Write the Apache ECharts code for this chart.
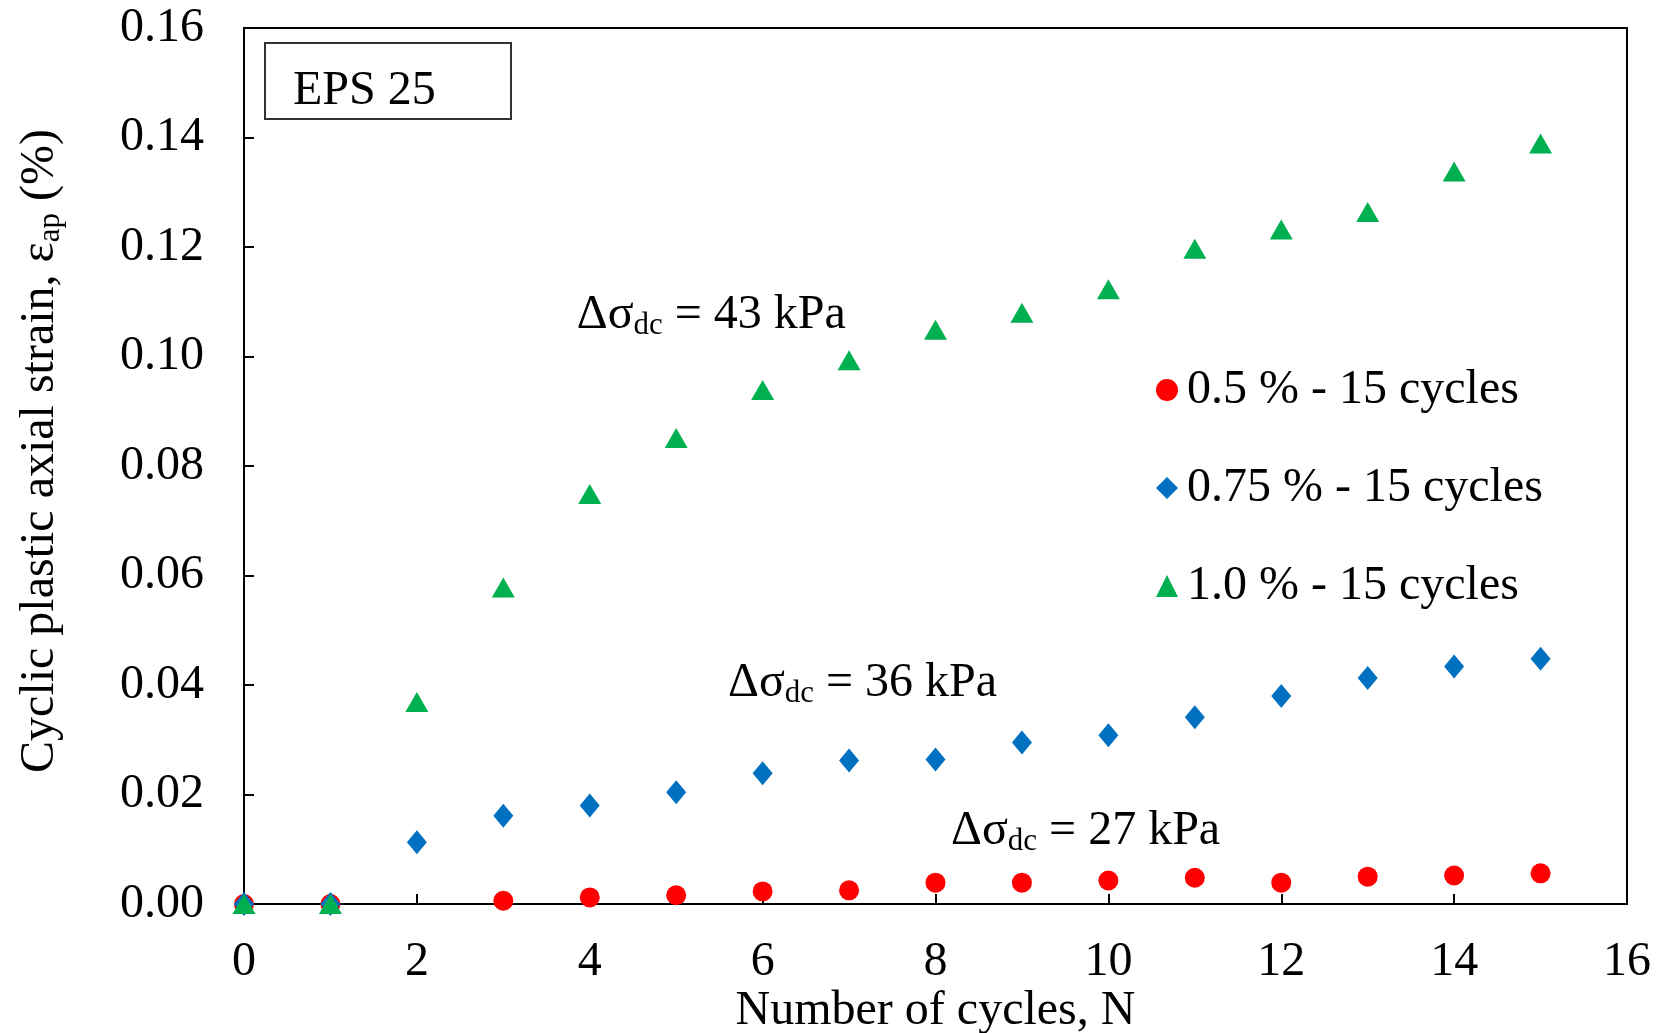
<!DOCTYPE html>
<html>
<head>
    <meta charset="utf-8">
    <title>EPS 25 cyclic plastic strain</title>
    <script src="https://cdn.jsdelivr.net/npm/echarts@6/dist/echarts.min.js"></script>
    <style>
        html, body { margin: 0; padding: 0; background: #fff; }
        #chart { width: 1665px; height: 1033px; }
    </style>
</head>
<body>
<div id="chart"></div>
<script type="text/javascript">
    // number of cycles
    var cycles = [0, 1, 2, 3, 4, 5, 6, 7, 8, 9, 10, 11, 12, 13, 14, 15];
    // cyclic plastic axial strain (%)
    var strain05 = [0, 0, null, 0.0006, 0.0012, 0.0016, 0.0023, 0.0025, 0.0039, 0.0039, 0.0043, 0.0048, 0.0039, 0.0050, 0.0052, 0.0056];
    var strain075 = [0, 0, 0.0113, 0.0161, 0.0180, 0.0204, 0.0239, 0.0262, 0.0264, 0.0295, 0.0308, 0.0341, 0.0380, 0.0413, 0.0434, 0.0448];
    var strain10 = [0, 0, 0.0369, 0.0578, 0.0749, 0.0851, 0.0939, 0.0993, 0.1049, 0.1080, 0.1123, 0.1197, 0.1232, 0.1264, 0.1338, 0.1389];
    var seriesNames = ['0.5 % - 15 cycles', '0.75 % - 15 cycles', '1.0 % - 15 cycles'];
    // stress labels: [x, y, text]
    var stressLabels = [
        [3.85, 0.1074, '43'],
        [5.60, 0.0401, '36'],
        [8.18, 0.0130, '27']
    ];

    var font = 'Liberation Serif';
    var fs = 48;

    // subscript: base text on top of a taller line, sub pushed to the bottom
    var subRich = {
        b: { fontFamily: font, fontSize: fs, color: '#000', lineHeight: 50, verticalAlign: 'top' },
        sub: { fontFamily: font, fontSize: 31, color: '#000', lineHeight: 30, padding: [38, 0, 0, 0], verticalAlign: 'bottom' }
    };

    function pairs(vals) {
        var out = [];
        for (var i = 0; i < cycles.length; i++) {
            if (vals[i] !== null) out.push([cycles[i], vals[i]]);
        }
        return out;
    }

    var chart = echarts.init(document.getElementById('chart'));
    chart.setOption({
        animation: false,
        backgroundColor: '#fff',
        textStyle: { fontFamily: font },
        grid: {
            left: 244, right: 38, top: 28, bottom: 129,
            outerBoundsMode: 'none',
            containLabel: false,
            show: true, borderColor: '#000', borderWidth: 2
        },
        title: {
            text: 'EPS 25',
            left: 265, top: 43,
            padding: [22, 76, 2, 28],
            borderColor: '#333', borderWidth: 2,
            textStyle: { fontFamily: font, fontSize: fs, fontWeight: 'normal', color: '#000', lineHeight: 52 }
        },
        legend: {
            data: seriesNames,
            orient: 'vertical',
            left: 1151, top: 360,
            itemWidth: 22, itemHeight: 22,
            itemGap: 48,
            textStyle: { fontFamily: font, fontSize: fs, color: '#000', lineHeight: 50, padding: [0, 0, 0, 4] }
        },
        xAxis: {
            type: 'value',
            min: 0, max: 16, interval: 2,
            name: 'Number of cycles, N',
            nameLocation: 'middle',
            nameGap: 83,
            nameMoveOverlap: false,
            nameTextStyle: { fontFamily: font, fontSize: fs, color: '#000' },
            axisLine: { lineStyle: { color: '#000', width: 2 } },
            axisTick: { inside: true, length: 10, lineStyle: { color: '#000', width: 2 } },
            axisLabel: { margin: 34, fontFamily: font, fontSize: fs, color: '#000' },
            splitLine: { show: false }
        },
        yAxis: {
            type: 'value',
            min: 0, max: 0.16, interval: 0.02,
            name: '{b|Cyclic plastic axial strain, ε}{sub|ap}{b| (%)}',
            nameLocation: 'middle',
            nameGap: 178,
            nameMoveOverlap: false,
            nameTextStyle: {
                fontFamily: font, fontSize: fs, color: '#000',
                padding: [0, 0, 0, 30],
                rich: subRich
            },
            axisLine: { lineStyle: { color: '#000', width: 2 } },
            axisTick: { inside: true, length: 10, lineStyle: { color: '#000', width: 2 } },
            axisLabel: {
                margin: 40, fontFamily: font, fontSize: fs, color: '#000',
                formatter: function (v) { return v.toFixed(2); }
            },
            splitLine: { show: false }
        },
        series: [{
            name: seriesNames[0],
            type: 'scatter',
            clip: false,
            symbol: 'circle',
            symbolSize: 20,
            itemStyle: { color: '#FF0000', opacity: 1 },
            data: pairs(strain05)
        }, {
            name: seriesNames[1],
            type: 'scatter',
            clip: false,
            symbol: 'diamond',
            symbolSize: [20, 24],
            itemStyle: { color: '#0070C0', opacity: 1 },
            data: pairs(strain075)
        }, {
            name: seriesNames[2],
            type: 'scatter',
            clip: false,
            symbol: 'triangle',
            symbolSize: [23, 20],
            itemStyle: { color: '#00B050', opacity: 1 },
            data: pairs(strain10)
        }, {
            name: 'labels',
            type: 'scatter',
            symbolSize: 0,
            silent: true,
            itemStyle: { opacity: 1 },
            data: stressLabels.map(function (d) { return [d[0], d[1], d[2]]; }),
            label: {
                show: true,
                position: 'right',
                distance: 0,
                formatter: function (p) { return '{b|Δσ}{sub|dc}{b| = ' + p.data[2] + ' kPa}'; },
                fontFamily: font, fontSize: fs, color: '#000',
                rich: subRich
            }
        }]
    });
</script>
</body>
</html>
